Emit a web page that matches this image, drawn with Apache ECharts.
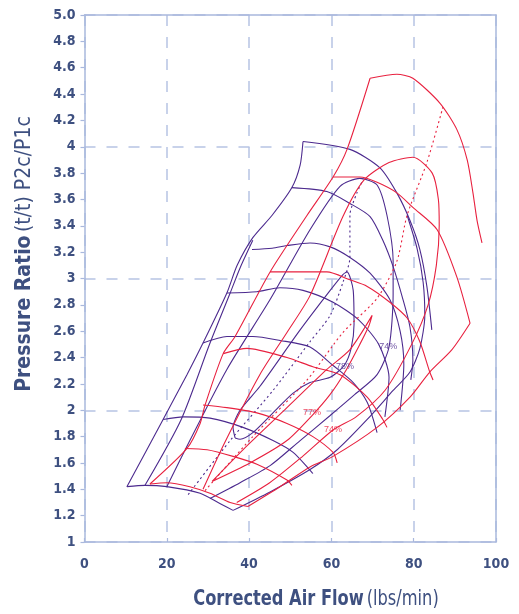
<!DOCTYPE html>
<html><head><meta charset="utf-8">
<script src="https://cdn.jsdelivr.net/npm/echarts@6/dist/echarts.min.js"></script>
<style>html,body{margin:0;padding:0;background:#fff}#c{width:519px;height:614px}</style>
</head><body><div id="c"></div>
<script>
// axis ticks
const xTicks = [0, 20, 40, 60, 80, 100];
const yMin = 1, yMax = 5, yStep = 0.2;

// ---- purple map (flow lbs/min, pressure ratio) ----
const pSurge = [[10.3,1.42],[19.1,1.93],[24.9,2.27],[28.8,2.51],[34.6,2.89],[37.1,3.10],[40.9,3.31],[45.6,3.48],[50.4,3.69],[52.4,3.86],[53.1,4.04]];
const pSpeed1 = [[53.1,4.04],[64.5,3.98],[71.8,3.84],[75.9,3.65],[79.1,3.44],[81.5,3.22],[83.2,2.94],[84.4,2.61]];
const pSpeed2 = [[50.4,3.69],[58.9,3.66],[64.5,3.57],[69.4,3.47],[72.5,3.29],[75.0,3.09],[77.4,2.84],[79.1,2.63],[79.8,2.38],[79.3,2.23]];
const pSpeed3 = [[40.7,3.22],[45.6,3.23],[49.2,3.25],[54.8,3.27],[59.7,3.24],[64.5,3.16],[69.4,3.04],[74.2,2.84],[76.7,2.60],[77.6,2.35],[76.7,2.00]];
const pSpeed4 = [[34.6,2.89],[41.9,2.90],[47.5,2.93],[53.1,2.91],[60.4,2.82],[66.5,2.69],[71.5,2.50],[74.0,2.25],[73.0,1.95]];
const pSpeed5 = [[28.8,2.51],[34.6,2.56],[40.9,2.56],[47.5,2.53],[54.8,2.48],[60.4,2.34],[65.3,2.21],[68.7,2.06],[71.1,1.83]];
const pSpeed6 = [[19.1,1.93],[24.0,1.95],[30.5,1.94],[38.5,1.87],[45.8,1.77],[50.7,1.68],[55.5,1.52]];
const pSpeed7 = [[10.3,1.42],[14.7,1.43],[20.0,1.42],[28.1,1.37],[33.0,1.29],[36.1,1.24]];
const pPeak = [[25.2,1.36],[35.4,1.77],[45.8,2.15],[54.8,2.52],[59.7,2.72],[62.8,2.97],[64.5,3.16],[64.5,3.48],[66.2,3.65],[67.7,3.75]];
const pEff78 = [[36.6,1.79],[36.1,1.87],[37.8,2.00],[42.6,2.18],[52.4,2.61],[59.7,2.91],[62.8,3.03],[63.8,3.05],[65.3,2.91],[65.5,2.65],[64.8,2.47],[63.1,2.34],[59.7,2.25],[54.8,2.21],[50.7,2.13],[45.8,1.98],[40.9,1.83],[37.8,1.78],[36.6,1.79]];
const pEff74 = [[20.0,1.42],[25.6,1.77],[34.6,2.31],[45.1,2.84],[54.8,3.37],[62.1,3.70],[66.9,3.76],[71.1,3.71],[73.5,3.48],[75.0,3.13],[75.0,2.88],[74.0,2.48],[71.1,2.27],[65.7,2.12],[59.7,1.96],[52.4,1.77],[45.1,1.58],[37.8,1.45],[30.5,1.33]];
const pEffOuter = [[14.7,1.43],[23.5,1.93],[30.5,2.51],[35.4,2.89],[37.8,3.08],[40.9,3.29]];
const pEffOuterR = [[78.4,3.48],[80.8,3.23],[82.3,2.97],[82.7,2.72],[81.5,2.47],[79.1,2.29],[75.0,2.15],[68.7,1.93],[61.4,1.70],[54.8,1.55],[45.1,1.38],[36.1,1.24]];

// ---- red map ----
const rSurge = [[15.9,1.44],[24.9,1.71],[28.1,1.90],[29.3,2.04],[33.7,2.43],[36.6,2.56],[45.1,3.05],[54.1,3.48],[60.4,3.77],[63.8,3.98],[69.4,4.52]];
const rSpeed1 = [[69.4,4.52],[75.9,4.55],[79.8,4.52],[86.4,4.33],[90.5,4.13],[93.0,3.90],[94.4,3.65],[95.4,3.44],[96.6,3.27]];
const rSpeed2 = [[60.4,3.77],[66.9,3.77],[71.1,3.73],[75.9,3.65],[79.8,3.54],[85.7,3.37],[90.5,3.01],[93.7,2.66]];
const rSpeed3 = [[45.1,3.05],[52.4,3.05],[58.9,3.05],[64.5,2.99],[68.7,2.94],[74.2,2.82],[78.4,2.70],[81.5,2.52],[83.9,2.29],[84.7,2.23]];
const rSpeed4 = [[33.7,2.43],[39.5,2.47],[49.2,2.40],[55.5,2.33],[62.1,2.27],[68.7,2.10],[72.5,1.93],[73.5,1.87]];
const rSpeed5 = [[28.8,2.04],[34.6,2.02],[41.9,1.98],[49.2,1.90],[55.5,1.80],[60.4,1.68],[61.4,1.60]];
const rSpeed6 = [[24.4,1.71],[29.8,1.70],[36.1,1.65],[41.9,1.59],[49.2,1.47],[50.4,1.43]];
const rSpeed7 = [[15.9,1.44],[20.0,1.45],[25.6,1.42],[30.5,1.37],[35.4,1.30],[39.7,1.27]];
const rPeak = [[29.3,1.39],[40.9,1.80],[54.1,2.23],[62.8,2.59],[71.1,2.85],[75.9,3.13],[78.4,3.48],[83.2,3.88],[87.1,4.30]];
const rEff77 = [[31.0,1.46],[38.5,1.70],[49.2,2.02],[58.9,2.31],[64.5,2.46],[69.9,2.72],[69.1,2.64],[66.9,2.50],[63.3,2.29],[59.7,2.12],[55.3,1.96],[49.2,1.77],[40.2,1.60],[31.0,1.46]];
const rEff74 = [[28.8,1.40],[34.0,1.75],[42.6,2.27],[49.2,2.59],[54.8,2.87],[62.8,3.47],[68.0,3.75],[74.0,3.88],[79.8,3.92],[84.5,3.80],[86.0,3.60],[86.2,3.40],[85.5,3.10],[83.5,2.80],[79.5,2.50],[73.0,2.15],[66.0,1.95],[60.4,1.85],[53.0,1.65],[45.0,1.45],[37.0,1.30]];
const rEffOuter = [[93.7,2.66],[89.3,2.46],[83.9,2.29],[79.1,2.10],[71.1,1.87],[60.4,1.65],[54.8,1.57],[47.5,1.42],[39.7,1.27]];

// efficiency labels
const pLabels = [{name:'74%', value:[73.8,2.48]},{name:'78%', value:[63.3,2.33]}];
const rLabels = [{name:'77%', value:[55.3,1.98]},{name:'74%', value:[60.4,1.85]}];

const PURPLE = '#4c2a8e', RED = '#e8213f';
const AX = '#3e5080', GRID = '#b6c3e3', AXL = '#a9b8dd';
const FONT = '"DejaVu Sans Condensed","Liberation Sans Narrow",sans-serif';

function ln(data, color, dotted){
  return {type:'line', data:data, smooth:0.25, showSymbol:false, symbol:'none', silent:true,
    lineStyle:{color:color, width:1.1, type: dotted ? [2,3] : 'solid'}, z:3};
}
const series = [];
[pSurge,pSpeed1,pSpeed2,pSpeed3,pSpeed4,pSpeed5,pSpeed6,pSpeed7,pEff78,pEff74,pEffOuter,pEffOuterR].forEach(d=>series.push(ln(d,PURPLE,false)));
series.push(ln(pPeak,PURPLE,true));
[rSurge,rSpeed1,rSpeed2,rSpeed3,rSpeed4,rSpeed5,rSpeed6,rSpeed7,rEff77,rEff74,rEffOuter].forEach(d=>series.push(ln(d,RED,false)));
series.push(ln(rPeak,RED,true));
function lab(data,color){
  return {type:'scatter', data:data, symbolSize:0, silent:true, z:5,
    label:{show:true, position:'inside', formatter:p=>p.name, color:color, fontSize:9, fontFamily:'"Liberation Sans","DejaVu Sans",sans-serif'}};
}
series.push(lab(pLabels,PURPLE));
series.push(lab(rLabels,RED));

const chart = echarts.init(document.getElementById('c'), null, {renderer:'canvas'});
chart.setOption({
  animation:false,
  backgroundColor:'#ffffff',
  grid:{left:84.5, right:23, top:15, bottom:72},
  xAxis:[{type:'value', min:xTicks[0], max:xTicks[xTicks.length-1], interval:20, position:'bottom',
      axisLine:{show:true, lineStyle:{color:AXL, width:1.5}},
      axisTick:{show:true, inside:true, length:4, lineStyle:{color:AXL, width:1.2}},
      axisLabel:{color:AX, fontFamily:FONT, fontWeight:'bold', fontSize:14, margin:15},
      splitLine:{show:true, lineStyle:{color:GRID, width:1.5, type:[11,11]}}},
    {type:'value', min:0, max:100, position:'top', axisLine:{show:true, onZero:false, lineStyle:{color:AXL, width:1.5}},
      axisTick:{show:false}, axisLabel:{show:false}, splitLine:{show:false}}],
  yAxis:[{type:'value', min:yMin, max:yMax, interval:yStep, position:'left',
      axisLine:{show:true, onZero:false, lineStyle:{color:AXL, width:1.5}},
      axisTick:{show:true, length:4, lineStyle:{color:AXL, width:1.2}},
      axisLabel:{color:AX, fontFamily:FONT, fontWeight:'bold', fontSize:14, margin:9,
        formatter:v=>{ if (Math.abs(v-5)<1e-6) return '5.0'; if (Math.abs(v-Math.round(v))<1e-6) return String(Math.round(v)); return v.toFixed(1);} },
      splitLine:{show:false}},
    {type:'value', min:yMin, max:yMax, interval:1, position:'right',
      axisLine:{show:true, onZero:false, lineStyle:{color:AXL, width:1.5}},
      axisTick:{show:false}, axisLabel:{show:false},
      splitLine:{show:true, lineStyle:{color:GRID, width:1.5, type:[11,11]}}}],
  series: series,
  graphic:[
    {type:'text', x:25, y:254, rotation:Math.PI/2, style:{
      text:'{b|Pressure Ratio} {n|(t/t) P2c/P1c}', align:'center', verticalAlign:'middle',
      rich:{b:{fontFamily:FONT, fontWeight:'bold', fontSize:21, fill:AX}, n:{fontFamily:FONT, fontSize:21, fill:AX}}}},
    {type:'text', x:316, y:600, scaleX:0.86, style:{
      text:'{b|Corrected Air Flow} {n|(lbs/min)}', align:'center', verticalAlign:'middle',
      rich:{b:{fontFamily:FONT, fontWeight:'bold', fontSize:21, fill:AX}, n:{fontFamily:FONT, fontSize:21, fill:AX}}}}
  ]
});
</script></body></html>
